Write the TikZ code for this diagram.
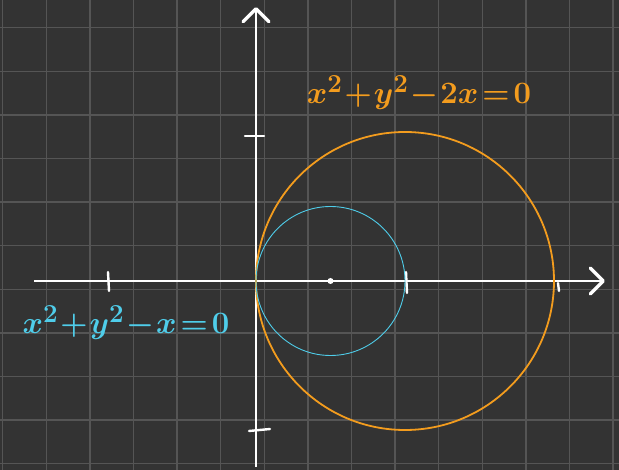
\documentclass[tikz,border=0pt]{standalone}
\usepackage{amsmath}
\usepackage{graphicx}
\usepackage{tikz}
\usetikzlibrary{arrows.meta}
\definecolor{board}{HTML}{333333}
\definecolor{gridgray}{HTML}{555555}
\definecolor{chalkorange}{HTML}{F39C1E}
\definecolor{chalkcyan}{HTML}{4FCDEA}
\newcommand{\bigeqn}[1]{\scalebox{1.25}{$#1$}}

\begin{document}
\begin{tikzpicture}[
    x=1pt, y=-1pt,
    every node/.style={font=\Huge\boldmath},
    gridln/.style={draw=gridgray, line width=1.3pt},
    axis/.style={draw=white, line width=2.2pt,
        -{Straight Barb[length=13pt, width=26pt, line width=3.5pt, round]}},
    tick/.style={draw=white, line width=2.4pt, line cap=round},
    bigcircle/.style={draw=chalkorange, line width=1.8pt},
    smallcircle/.style={draw=chalkcyan, line width=0.9pt},
    eqn/.style={anchor=base, inner sep=0pt}
]
\useasboundingbox (0,0) rectangle (619,470);
\fill[board] (0,0) rectangle (619,470);
% grid
\foreach \k in {0,...,14}
    \draw[gridln] (2.7+43.6*\k, 0) -- (2.7+43.6*\k, 470);
\foreach \k in {0,...,10}
    \draw[gridln] (0, 27.7+43.6*\k) -- (619, 27.7+43.6*\k);
% axes
\coordinate (O)  at (256, 281);
\coordinate (xl) at (34, 281);
\coordinate (xr) at (605, 281);
\coordinate (yb) at (256, 467);
\coordinate (yt) at (256, 7);
\draw[axis] (xl) -- (xr);
\draw[axis] (yb) -- (yt);
% ticks
\draw[tick] (108, 272) -- (109, 291);
\draw[tick] (406, 272) -- (407, 293);
\draw[tick] (558, 283) -- (559, 291);
\draw[tick] (245, 136) -- (264, 136);
\draw[tick] (249, 431) -- (270, 429);
% circles
\coordinate (c1) at (405, 281);
\coordinate (c2) at (330.5, 281);
\draw[bigcircle] (c1) circle[radius=149pt];
\draw[smallcircle] (c2) circle[radius=74.5pt];
\fill[white] (c2) circle[radius=3pt];
% equations
\node[eqn, text=chalkorange] (eqbig) at (419, 104) {\bigeqn{x^2\!+\!y^2\!-\!2x\!=\!0}};
\node[eqn, text=chalkcyan] (eqsmall) at (126, 334) {\bigeqn{x^2\!+\!y^2\!-\!x\!=\!0}};
\end{tikzpicture}
\end{document}
